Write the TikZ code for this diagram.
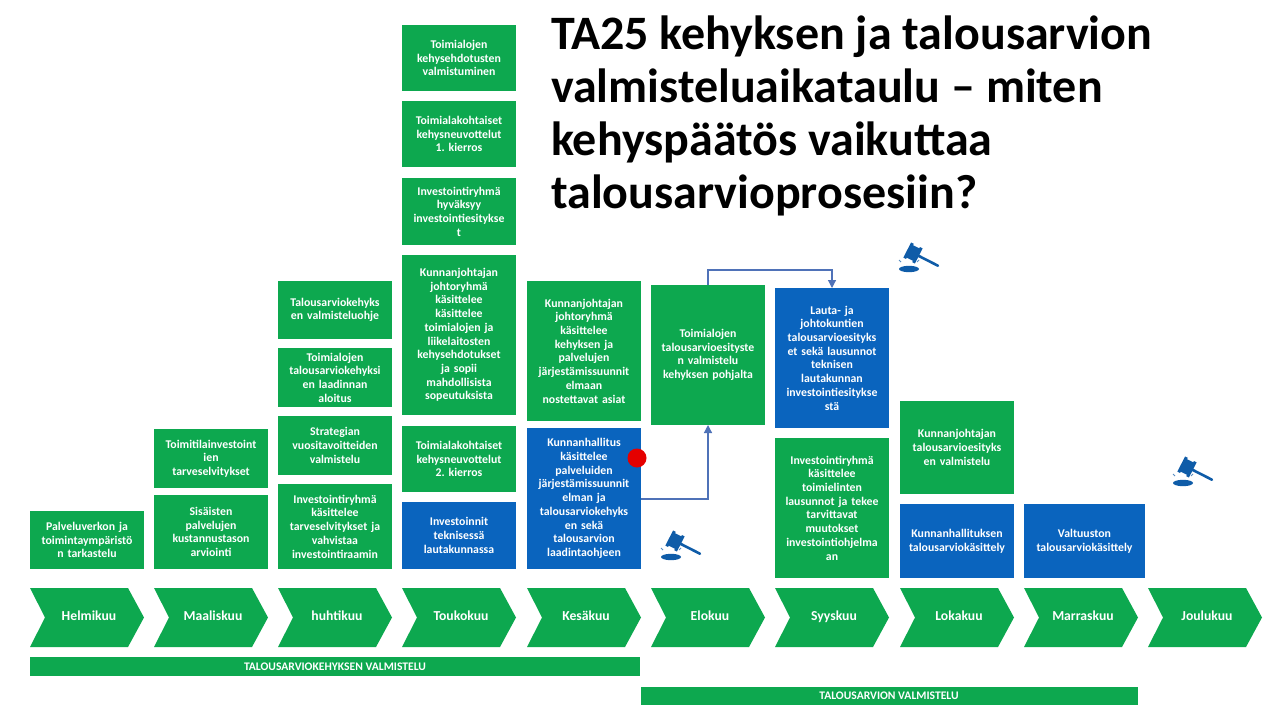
\documentclass[tikz,border=0pt]{standalone}
\usepackage{fontspec}
\setmainfont{Carlito}
\usetikzlibrary{arrows.meta}
\definecolor{grn}{HTML}{0DA84F}
\definecolor{blu}{HTML}{0A64BE}
\definecolor{lnk}{HTML}{4F72B8}
\definecolor{gav}{HTML}{0F5CA8}
\tikzset{
  cardbox/.style={inner sep=0pt,outer sep=0pt,align=center,text=white,font=\fontsize{11.8}{13.7}\selectfont\bfseries\frenchspacing},
  grnbox/.style={cardbox,fill=grn},
  blubox/.style={cardbox,fill=blu},
  monthlabel/.style={text=white,font=\fontsize{13.7}{15}\selectfont\bfseries,inner sep=0pt,text height=9pt,text depth=3pt},
  barlabel/.style={text=white,font=\fontsize{11.6}{13}\selectfont\bfseries,inner sep=0pt},
  flow/.style={draw=lnk,line width=1.2pt,-{Triangle[length=8pt,width=8pt]}},
  gavel/.pic={
    \fill[gav] (-9,11) ellipse [x radius=10,y radius=3.2];
    \begin{scope}[shift={(-5,-5)},rotate=-27]
      \draw[gav,line width=2.6pt,line cap=round] (0,0) -- (28,0);
      \fill[gav] (-5,-7) rectangle (5,7);
      \fill[gav] (-6.5,-8.5) rectangle (-3.5,8.5);
      \fill[gav] (3.5,-8.5) rectangle (6.5,8.5);
    \end{scope}
    \draw[gav!70,line width=1pt] (-19,2) -- (-17,4);
    \draw[gav!70,line width=1pt] (-1,4) -- (1,2);
  }
}
% name, style, x0, y0, x1, y1, text
\newcommand{\cardat}[7]{%
  \pgfmathsetmacro{\cardcx}{(#3+#5)/2}%
  \pgfmathsetmacro{\cardcy}{(#4+#6)/2}%
  \pgfmathsetmacro{\cardw}{#5-#3}%
  \pgfmathsetmacro{\cardh}{#6-#4}%
  \node[#2,minimum width=\cardw pt,minimum height=\cardh pt,text width=\cardw pt] (#1) at (\cardcx,\cardcy) {#7};%
}
% name, x0, text
\newcommand{\monthat}[3]{%
  \fill[grn] (#2,588) -- ++(98,0) -- ++(16,29.5) -- ++(-16,29.5) -- ++(-98,0) -- ++(15,-29.5) -- cycle;%
  \node[monthlabel] (#1) at (#2+59,617) {#3};%
}
\begin{document}
\begin{tikzpicture}[x=1pt,y=-1pt]
\useasboundingbox (0,0) rectangle (1280,720);
\fill[white] (0,0) rectangle (1280,720);

\node[anchor=north west,align=left,inner sep=0pt,text=black,font=\fontsize{48}{53}\selectfont\bfseries] (title) at (551,16)
 {TA25 kehyksen ja talousarvion\\valmisteluaikataulu – miten\\kehyspäätös vaikuttaa\\talousarvioprosesiin?};

\cardat{a1}{grnbox}{30}{511}{144}{569}{Palveluverkon ja\\toimintaympäristö\\n tarkastelu}

\cardat{b1}{grnbox}{154}{429}{268}{488}{Toimitilainvestoint\\ien\\tarveselvitykset}
\cardat{b2}{grnbox}{154}{495}{268}{569}{Sisäisten\\palvelujen\\kustannustason\\arviointi}

\cardat{c1}{grnbox}{278}{281}{392}{339}{Talousarviokehyks\\en valmisteluohje}
\cardat{c2}{grnbox}{278}{348}{392}{407}{Toimialojen\\talousarviokehyksi\\en laadinnan\\aloitus}
\cardat{c3}{grnbox}{278}{416}{392}{475}{Strategian\\vuositavoitteiden\\valmistelu}
\cardat{c4}{grnbox}{278}{484}{392}{569}{Investointiryhmä\\käsittelee\\tarveselvitykset ja\\vahvistaa\\investointiraamin}

\cardat{d1}{grnbox}{402}{25}{516}{91}{Toimialojen\\kehysehdotusten\\valmistuminen}
\cardat{d2}{grnbox}{402}{101}{516}{167}{Toimialakohtaiset\\kehysneuvottelut\\1. kierros}
\cardat{d3}{grnbox}{402}{178}{516}{245}{Investointiryhmä\\hyväksyy\\investointiesitykse\\t}
\cardat{d4}{grnbox}{402}{255}{516}{415}{Kunnanjohtajan\\johtoryhmä\\käsittelee\\käsittelee\\toimialojen ja\\liikelaitosten\\kehysehdotukset\\ja sopii\\mahdollisista\\sopeutuksista}
\cardat{d5}{grnbox}{402}{426}{516}{492}{Toimialakohtaiset\\kehysneuvottelut\\2. kierros}
\cardat{d6}{blubox}{402}{502}{516}{569}{Investoinnit\\teknisessä\\lautakunnassa}

\cardat{e1}{grnbox}{527}{281}{641}{421}{Kunnanjohtajan\\johtoryhmä\\käsittelee\\kehyksen ja\\palvelujen\\järjestämissuunnit\\elmaan\\nostettavat asiat}
\cardat{e2}{blubox}{527}{428}{641}{569}{Kunnanhallitus\\käsittelee\\palveluiden\\järjestämissuunnit\\elman ja\\talousarviokehyks\\en sekä\\talousarvion\\laadintaohjeen}

\cardat{f1}{grnbox}{651}{285}{765}{425}{Toimialojen\\talousarvioesityste\\n valmistelu\\kehyksen pohjalta}

\cardat{g1}{blubox}{775}{288}{889}{428}{Lauta- ja\\johtokuntien\\talousarvioesityks\\et sekä lausunnot\\teknisen\\lautakunnan\\investointiesitykse\\stä}
\cardat{g2}{grnbox}{775}{438}{889}{578}{Investointiryhmä\\käsittelee\\toimielinten\\lausunnot ja tekee\\tarvittavat\\muutokset\\investointiohjelma\\an}

\cardat{h1}{grnbox}{900}{401}{1014}{494}{Kunnanjohtajan\\talousarvioesityks\\en valmistelu}
\cardat{h2}{blubox}{900}{504}{1014}{578}{Kunnanhallituksen\\talousarviokäsittely}
\cardat{i1}{blubox}{1024}{504}{1145}{578}{Valtuuston\\talousarviokäsittely}

\monthat{m1}{30}{Helmikuu}
\monthat{m2}{154}{Maaliskuu}
\monthat{m3}{278}{huhtikuu}
\monthat{m4}{402}{Toukokuu}
\monthat{m5}{527}{Kesäkuu}
\monthat{m6}{651}{Elokuu}
\monthat{m7}{775}{Syyskuu}
\monthat{m8}{900}{Lokakuu}
\monthat{m9}{1024}{Marraskuu}
\monthat{m10}{1148}{Joulukuu}

\fill[grn] (30,657) rectangle (640,676);
\node[barlabel] (bar1) at (335,666.5) {TALOUSARVIOKEHYKSEN VALMISTELU};
\fill[grn] (641,687) rectangle (1138,705);
\node[barlabel] (bar2) at (889,696) {TALOUSARVION VALMISTELU};

\draw[flow] (e2.east |- 0,499) -| (f1.south);
\draw[flow] (f1.north) |- (707,270) -| (g1.north);

\fill[red!90!black] (637,458) circle [radius=9.5];

\pic at (918,258) {gavel};
\pic at (680,546) {gavel};
\pic at (1192,472) {gavel};
\end{tikzpicture}
\end{document}
